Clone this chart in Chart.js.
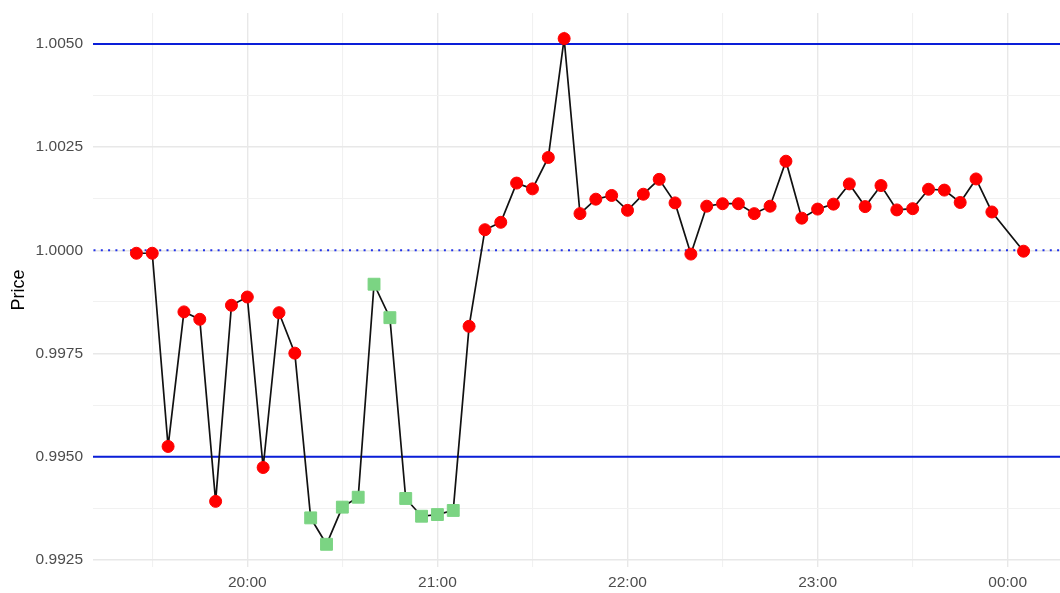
<!DOCTYPE html>
<html>
<head>
<meta charset="utf-8">
<script src="https://cdn.jsdelivr.net/npm/chart.js@4.4.1/dist/chart.umd.min.js"></script>
<style>
  html, body { margin: 0; padding: 0; background: #ffffff; }
  canvas { display: block; }
</style>
</head>
<body>
<canvas id="c" width="1060" height="593"></canvas>
<script>
// ---- data ----
const times = ['19:25','19:30','19:35','19:40','19:45','19:50','19:55','20:00','20:05','20:10',
               '20:15','20:20','20:25','20:30','20:35','20:40','20:45','20:50','20:55','21:00',
               '21:05','21:10','21:15','21:20','21:25','21:30','21:35','21:40','21:45','21:50',
               '21:55','22:00','22:05','22:10','22:15','22:20','22:25','22:30','22:35','22:40',
               '22:45','22:50','22:55','23:00','23:05','23:10','23:15','23:20','23:25','23:30',
               '23:35','23:40','23:45','23:50','23:55','00:05'];
const prices = [0.99993, 0.99993, 0.99525, 0.99851, 0.99833, 0.99392, 0.99867, 0.99887, 0.99474, 0.99849,
                0.99751, 0.99352, 0.99288, 0.99378, 0.99402, 0.99918, 0.99837, 0.99399, 0.99356, 0.99360,
                0.99370, 0.99816, 1.00050, 1.00068, 1.00163, 1.00149, 1.00225, 1.00513, 1.00089, 1.00124,
                1.00133, 1.00097, 1.00136, 1.00172, 1.00115, 0.99991, 1.00107, 1.00113, 1.00113, 1.00089,
                1.00107, 1.00216, 1.00078, 1.00100, 1.00112, 1.00161, 1.00106, 1.00157, 1.00098, 1.00101,
                1.00148, 1.00146, 1.00116, 1.00173, 1.00093, 0.99998];
const phase = ['normal','normal','normal','normal','normal','normal','normal','normal','normal','normal',
               'normal','low','low','low','low','low','low','low','low','low',
               'low','normal','normal','normal','normal','normal','normal','normal','normal','normal',
               'normal','normal','normal','normal','normal','normal','normal','normal','normal','normal',
               'normal','normal','normal','normal','normal','normal','normal','normal','normal','normal',
               'normal','normal','normal','normal','normal','normal'];
const xTickLabels = ['20:00','21:00','22:00','23:00','00:00'];
const yTickLabels = ['0.9925','0.9950','0.9975','1.0000','1.0025','1.0050'];
const bandLevels = [0.995, 1.005];
const baseLevel = [1.0];

// ---- helpers ----
const X_MIN = 1151.3, X_MAX = 1456.5;
function toMin(t) {
  const [h, m] = t.split(':').map(Number);
  return (h < 12 ? h + 24 : h) * 60 + m;
}
const points = times.map((t, i) => ({ x: toMin(t), y: prices[i] }));
const xMajor = xTickLabels.map(toMin);
const yMajor = yTickLabels.map(Number);
const xAll = [];
xMajor.forEach(v => { xAll.push(v - 30, v); });
xAll.push(xMajor[xMajor.length - 1] + 30);
const xTicksInRange = xAll.filter(v => v >= X_MIN && v <= X_MAX);
const yAll = [];
yMajor.forEach((v, i) => { yAll.push(v); if (i < yMajor.length - 1) yAll.push((v + yMajor[i + 1]) / 2); });

const styleFor = {
  normal: { shape: 'circle', color: '#ff0000', r: 6 },
  low:    { shape: 'rect',   color: '#7bd483', r: 8.4 }
};

const refLinesPlugin = {
  id: 'refLines',
  beforeDatasetsDraw(chart) {
    const { ctx, chartArea, scales } = chart;
    ctx.save();
    ctx.strokeStyle = '#0a1ed8';
    ctx.lineWidth = 2;
    bandLevels.forEach(v => {
      const y = scales.y.getPixelForValue(v);
      ctx.beginPath();
      ctx.setLineDash([]);
      ctx.moveTo(chartArea.left, y);
      ctx.lineTo(chartArea.right, y);
      ctx.stroke();
    });
    ctx.strokeStyle = '#2233e8';
    baseLevel.forEach(v => {
      const y = scales.y.getPixelForValue(v);
      ctx.beginPath();
      ctx.setLineDash([2, 5.3]);
      ctx.moveTo(chartArea.left + 0.5, y);
      ctx.lineTo(chartArea.right, y);
      ctx.stroke();
    });
    ctx.restore();
  }
};

const isMajorX = v => xMajor.some(m => Math.abs(m - v) < 1e-6);
const isMajorY = v => yMajor.some(m => Math.abs(m - v) < 1e-9);

new Chart(document.getElementById('c'), {
  type: 'line',
  data: {
    datasets: [{
      data: points,
      borderColor: '#111111',
      borderWidth: 1.7,
      tension: 0,
      pointStyle: ctx => styleFor[phase[ctx.dataIndex]].shape,
      pointRadius: ctx => styleFor[phase[ctx.dataIndex]].r,
      pointBackgroundColor: ctx => styleFor[phase[ctx.dataIndex]].color,
      pointBorderColor: ctx => styleFor[phase[ctx.dataIndex]].color,
      pointBorderWidth: 1
    }]
  },
  options: {
    responsive: false,
    animation: false,
    devicePixelRatio: 1,
    layout: { autoPadding: false, padding: { top: 13, right: 0, left: 0, bottom: 0 } },
    plugins: { legend: { display: false }, tooltip: { enabled: false } },
    scales: {
      x: {
        type: 'linear',
        min: X_MIN,
        max: X_MAX,
        afterBuildTicks: s => { s.ticks = xTicksInRange.map(v => ({ value: v })); },
        afterFit: s => { s.height = 26; s.paddingLeft = 0; s.paddingRight = 0; },
        border: { display: false },
        grid: {
          drawTicks: false,
          color: c => isMajorX(c.tick.value) ? '#e8e8e8' : '#f1f1f1',
          lineWidth: c => isMajorX(c.tick.value) ? 1.4 : 1.1
        },
        ticks: {
          autoSkip: false,
          maxRotation: 0,
          padding: 6,
          color: '#4d4d4d',
          font: { family: 'Liberation Sans, Arial, sans-serif', size: 15.5 },
          callback: v => { const i = xMajor.findIndex(m => Math.abs(m - v) < 1e-6); return i >= 0 ? xTickLabels[i] : ''; }
        }
      },
      y: {
        min: 0.99233,
        max: 1.00575,
        afterBuildTicks: s => { s.ticks = yAll.map(v => ({ value: v })); },
        afterFit: s => { s.width = 93; s.paddingTop = 0; s.paddingBottom = 0; },
        border: { display: false },
        grid: {
          drawTicks: false,
          color: c => isMajorY(c.tick.value) ? '#e8e8e8' : '#f1f1f1',
          lineWidth: c => isMajorY(c.tick.value) ? 1.4 : 1.1
        },
        ticks: {
          autoSkip: false,
          padding: 10,
          color: '#4d4d4d',
          font: { family: 'Liberation Sans, Arial, sans-serif', size: 15.5 },
          callback: v => { const i = yMajor.findIndex(m => Math.abs(m - v) < 1e-9); return i >= 0 ? yTickLabels[i] : ''; }
        },
        title: {
          display: true,
          text: 'Price',
          color: '#000000',
          padding: { top: 8, bottom: 0 },
          font: { family: 'Liberation Sans, Arial, sans-serif', size: 18 }
        }
      }
    }
  },
  plugins: [refLinesPlugin]
});
</script>
</body>
</html>
